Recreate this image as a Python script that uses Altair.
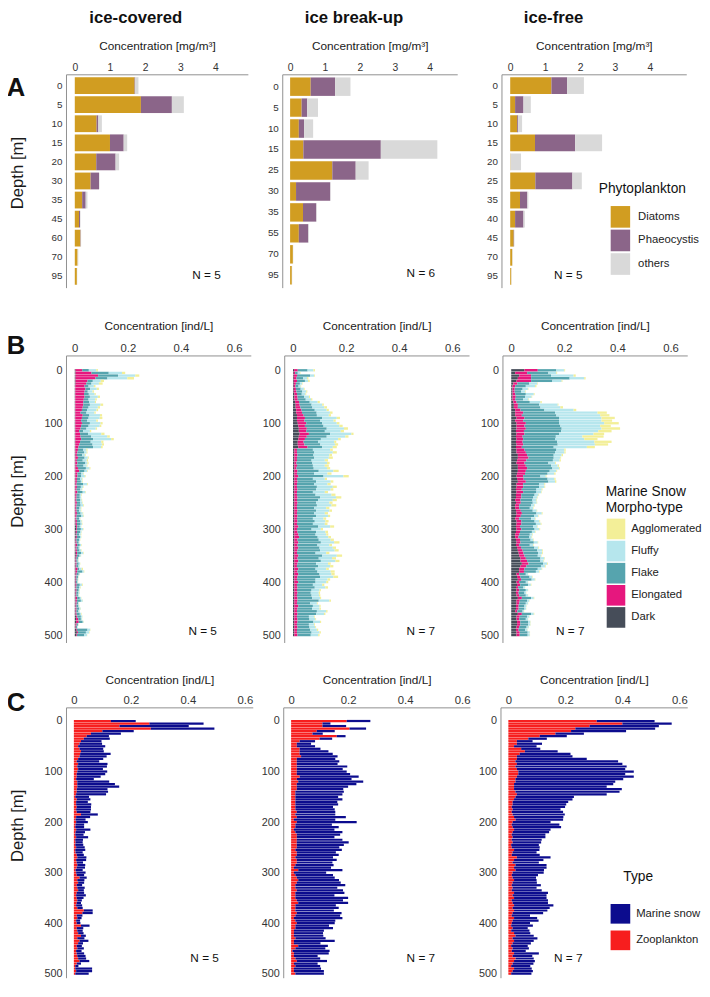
import altair as alt
import pandas as pd

FONT = "Liberation Sans"

# ---------------- Row A : phytoplankton (mg/m3) ----------------
A_CATS = ["Diatoms", "Phaeocystis", "others"]
A_COLORS = ["#D19D21", "#8B6589", "#D9D9D9"]

A1_DEPTH = ["0", "5", "10", "15", "20", "30", "35", "45", "60", "70", "95"]
A1_DIATOMS = [1.70, 1.88, 0.62, 1.00, 0.61, 0.45, 0.21, 0.12, 0.16, 0.08, 0.06]
A1_PHAEO = [0.02, 0.88, 0.05, 0.39, 0.55, 0.24, 0.10, 0.03, 0.01, 0.00, 0.00]
A1_OTHERS = [0.09, 0.34, 0.10, 0.10, 0.10, 0.01, 0.05, 0.01, 0.01, 0.02, 0.01]

A2_DEPTH = ["0", "5", "10", "15", "25", "30", "35", "55", "70", "95"]
A2_DIATOMS = [0.59, 0.33, 0.25, 0.38, 1.21, 0.17, 0.37, 0.25, 0.08, 0.05]
A2_PHAEO = [0.70, 0.16, 0.15, 2.22, 0.67, 0.98, 0.38, 0.27, 0.00, 0.00]
A2_OTHERS = [0.44, 0.31, 0.26, 1.62, 0.37, 0.01, 0.01, 0.02, 0.01, 0.01]

A3_DEPTH = ["0", "5", "10", "15", "20", "25", "35", "40", "45", "70", "95"]
A3_DIATOMS = [1.18, 0.14, 0.20, 0.71, 0.01, 0.72, 0.28, 0.14, 0.10, 0.06, 0.03]
A3_PHAEO = [0.45, 0.24, 0.03, 1.15, 0.00, 1.06, 0.21, 0.24, 0.01, 0.00, 0.00]
A3_OTHERS = [0.48, 0.21, 0.11, 0.77, 0.30, 0.27, 0.03, 0.04, 0.01, 0.01, 0.01]

COLUMN_TITLES = ["ice-covered", "ice break-up", "ice-free"]

# ---------------- Row B : marine snow morpho-types (ind/L x 1000) ----------------
DEPTHS = list(range(0, 505, 5))
B_STACK = ["Dark", "Elongated", "Flake", "Fluffy", "Agglomerated"]
B_LEGEND = ["Agglomerated", "Fluffy", "Flake", "Elongated", "Dark"]
B_COLORS = ["#F3EF98", "#B6E6ED", "#56A4AE", "#E6177E", "#464D59"]

# rows: (dark, elongated, flake, fluffy, agglomerated) per 5 m bin, 0..500 m
B1_ROWS = [
    (3,25,25,28,6),(3,60,65,50,12),(3,85,75,65,15),(3,75,45,75,25),(3,45,20,30,12),(3,40,20,28,14),(2,35,15,20,6),(2,38,18,25,8),(2,35,12,18,5),(2,33,18,22,4),
    (2,35,20,30,8),(2,32,18,25,6),(2,30,22,22,4),(2,30,25,40,10),(2,28,22,35,8),(2,25,20,35,6),(2,20,22,30,5),(2,28,25,40,8),(2,25,25,42,10),(2,22,22,35,6),
    (2,25,30,40,8),(2,22,28,42,6),(2,20,22,35,5),(2,15,15,25,5),(2,18,30,50,12),(2,20,40,60,10),(2,22,45,68,10),(2,18,40,40,8),(2,15,50,35,8),(2,12,55,30,6),
    (2,10,20,12,4),(2,8,25,10,3),(2,6,20,10,3),(2,10,25,12,4),(2,6,22,15,5),(2,8,30,8,4),(2,6,25,12,3),(2,10,30,14,3),(2,15,20,10,2),(2,8,15,8,2),
    (2,8,14,14,3),(2,6,12,8,2),(2,6,15,6,2),(2,5,25,15,3),(2,6,15,8,2),(2,5,14,6,2),(2,8,20,10,2),(2,5,12,6,2),(2,5,12,5,1),(2,4,14,6,2),
    (2,6,12,8,2),(2,5,15,10,3),(2,4,12,5,2),(2,5,10,6,2),(2,6,14,8,2),(2,5,18,8,2),(2,4,10,5,1),(3,5,12,6,2),(3,5,14,5,2),(5,4,10,5,1),
    (5,3,15,8,2),(4,4,12,5,1),(4,3,10,6,2),(4,4,12,4,1),(3,3,10,4,1),(3,4,8,3,1),(3,6,10,5,2),(3,4,8,4,1),(3,5,10,6,2),(4,5,15,8,2),
    (4,4,10,5,1),(3,3,6,3,1),(3,3,5,3,1),(3,4,8,5,1),(3,3,8,4,1),(3,8,5,10,5),(3,6,20,5,2),(3,4,8,4,1),(3,3,6,2,1),(3,3,5,2,1),
    (3,2,5,2,1),(3,4,12,8,3),(3,3,10,5,2),(3,4,8,3,1),(3,3,8,4,1),(3,3,6,4,1),(3,6,10,5,1),(3,5,15,7,1),(3,4,6,3,1),(3,3,8,3,1),
    (3,4,10,5,1),(3,3,8,4,1),(3,4,12,5,2),(5,4,14,5,1),(5,8,10,4,1),(5,10,15,3,1),(3,4,5,2,1),(3,2,4,2,0),(5,3,40,10,1),(8,4,30,12,2),
    (5,3,28,10,1),
]
B2_ROWS = [
    (4,14,37,22,6),(3,5,10,8,2),(3,12,50,15,3),(3,10,25,15,5),(3,12,30,12,6),(3,8,15,8,2),(3,6,12,8,2),(3,8,18,12,3),(3,10,22,15,4),(5,10,18,14,3),
    (5,12,25,18,4),(6,12,30,20,5),(8,15,40,30,8),(10,15,45,40,6),(10,18,45,45,10),(12,20,50,45,8),(12,22,55,50,10),(15,25,50,45,8),(15,30,65,55,12),(15,28,60,50,8),
    (18,32,60,55,10),(20,25,70,60,12),(22,30,75,65,15),(22,28,70,60,12),(25,35,80,80,8),(22,30,75,70,12),(20,25,60,65,10),(18,22,55,60,8),(18,25,60,55,12),(20,35,55,40,15),
    (5,10,60,65,10),(5,10,65,70,15),(5,12,60,60,10),(5,10,65,55,15),(5,10,55,50,12),(5,8,60,55,10),(5,10,60,45,15),(5,8,65,50,12),(5,12,80,55,20),(5,10,65,50,15),
    (5,15,95,75,20),(5,10,60,45,8),(5,12,70,55,10),(5,10,65,50,12),(5,10,75,60,15),(5,12,70,55,10),(5,10,60,45,12),(5,10,70,60,15),(5,12,85,60,20),(5,10,80,55,15),
    (5,12,70,50,12),(5,10,75,55,18),(5,10,65,45,12),(5,12,70,50,10),(5,10,65,40,12),(5,12,70,45,8),(5,10,60,40,10),(5,12,65,40,12),(5,10,60,45,10),(5,15,75,45,15),
    (5,10,55,35,8),(5,12,70,35,10),(5,15,65,40,8),(5,18,70,40,10),(5,12,80,45,12),(5,15,85,50,20),(5,12,75,45,10),(5,15,80,50,12),(5,12,85,55,15),(5,10,70,40,12),
    (5,15,90,55,20),(5,12,80,50,15),(5,15,85,55,15),(5,12,70,45,10),(5,10,80,45,12),(5,15,65,40,10),(5,12,75,50,15),(5,15,80,45,12),(5,12,85,50,18),(5,10,70,45,10),
    (5,15,65,40,8),(5,10,60,35,8),(5,12,65,40,10),(5,10,55,30,5),(5,12,50,30,5),(5,10,55,28,5),(5,12,55,30,4),(5,12,80,40,6),(5,10,50,25,3),(5,15,55,25,4),
    (5,12,55,28,5),(5,10,75,35,5),(5,12,70,30,5),(5,10,45,20,3),(5,12,45,22,3),(5,12,60,25,4),(5,10,45,20,3),(5,12,45,22,3),(5,10,50,25,5),(5,10,55,30,5),
    (5,12,50,28,5),
]
B3_ROWS = [
    (50,50,70,30,3),(15,45,80,30,3),(30,45,75,85,8),(25,50,145,55,5),(20,55,80,35,3),(8,15,45,30,2),(5,10,40,35,5),(5,8,30,20,2),(5,8,25,15,2),(5,10,40,30,3),
    (5,12,35,25,2),(5,10,30,20,2),(8,12,50,40,5),(10,15,80,70,3),(10,15,85,75,10),(15,20,90,110,10),(15,30,120,160,35),(15,25,130,165,35),(20,30,130,160,50),(15,30,135,160,40),
    (20,35,125,170,55),(20,30,135,150,40),(20,35,135,150,70),(18,30,140,140,50),(20,30,130,130,40),(18,25,125,100,80),(20,25,120,110,50),(18,25,130,140,65),(20,25,130,140,50),(18,22,120,125,30),
    (20,30,120,30,5),(20,35,110,35,5),(25,35,100,30,5),(25,40,95,25,3),(22,35,100,25,5),(20,30,90,25,3),(25,30,95,25,5),(25,35,95,25,3),(25,30,90,25,3),(22,30,85,25,5),
    (20,25,65,20,3),(22,25,90,25,5),(25,30,85,25,5),(20,25,60,20,3),(20,25,60,20,3),(18,22,55,20,3),(20,25,50,18,2),(18,20,50,15,2),(18,20,45,15,2),(15,20,45,15,2),
    (18,18,45,15,2),(15,15,45,12,2),(15,15,40,12,2),(18,18,45,15,2),(20,20,55,20,3),(18,18,50,15,2),(15,15,45,15,2),(20,18,50,18,3),(20,18,55,18,3),(18,15,50,15,2),
    (20,18,50,18,3),(18,15,45,12,2),(15,15,40,10,2),(15,12,40,10,2),(18,15,40,10,2),(20,15,50,15,2),(18,12,40,12,2),(22,15,50,15,3),(25,18,55,18,3),(28,18,55,15,3),
    (30,20,50,12,2),(35,20,55,15,2),(35,25,50,12,2),(40,25,55,15,3),(35,22,55,15,3),(30,20,50,15,2),(30,18,45,12,2),(20,10,25,8,1),(22,12,35,10,2),(25,12,40,12,2),
    (20,10,25,8,1),(22,12,30,10,2),(18,8,20,6,1),(20,10,25,8,1),(18,10,22,6,1),(20,10,25,8,1),(25,15,35,10,2),(20,12,28,8,1),(20,10,25,8,1),(18,10,22,7,1),
    (18,10,22,6,1),(15,8,20,5,1),(25,15,35,10,2),(20,12,28,8,1),(20,10,25,8,1),(22,12,30,8,1),(22,12,30,8,1),(20,10,28,8,1),(18,10,25,8,1),(20,12,30,8,1),
    (20,12,30,8,1),
]

# ---------------- Row C : zooplankton (ind/L x 1000); marine snow = row B totals ----------------
C_STACK = ["Zooplankton", "Marine snow"]
C_LEGEND = ["Marine snow", "Zooplankton"]
C_COLORS = ["#0C0C8E", "#F71E1E"]

C1_ZOO = [130,265,160,270,100,60,45,35,25,20, 15,20,25,22,20,15,10,15,12,15,
          12,10,10,8,12,12,12,10,10,8, 5,10,8,8,10,8,10,25,8,6,
          8,6,5,8,6,5,8,5,6,5, 8,5,6,10,12,8,10,12,10,6,
          8,10,20,12,15,10,12,15,10,8, 10,12,10,8,12,35,30,10,12,8,
          10,25,10,12,15,25,12,20,15,10, 12,8,10,12,15,20,10,5,5,8, 5]
C2_ZOO = [195,110,110,205,90,75,160,100,30,20, 20,30,30,30,35,20,20,20,20,20,
          20,20,30,20,25,20,20,20,15,15, 15,15,15,15,15,15,20,15,20,10,
          20,15,15,10,15,20,20,20,20,20, 20,15,20,20,15,20,20,15,10,25,
          10,15,20,25,20,15,15,20,15,15, 15,20,25,15,15,15,20,15,10,15,
          20,15,15,10,10,10,15,10,10,25, 15,5,10,10,15,20,10,15,10,10, 15]
C3_ZOO = [310,400,285,235,220,165,110,70,30,30, 20,45,58,40,30,30,25,30,25,30,
          35,35,30,25,25,20,20,20,25,30, 25,20,15,15,12,15,12,15,20,25,
          15,12,15,20,15,12,15,12,15,10, 12,20,15,12,30,20,15,25,20,25,
          15,12,15,20,15,12,15,12,20,15, 20,12,15,20,15,20,15,12,20,15,
          12,10,15,10,20,25,15,20,15,10, 15,12,20,15,25,20,15,10,20,15, 10]

RECT = "M-0.9,-1H0.9V1H-0.9Z"
SQUARE = "M-1,-1H1V1H-1Z"


def stack(keys, series, cats):
    rows = []
    for i, k in enumerate(keys):
        x = 0.0
        for c, s in zip(cats, series):
            v = s[i]
            rows.append({"depth": k, "cat": c, "x0": x, "x1": x + v})
            x += v
    return pd.DataFrame(rows)


def note(text, x, y, size, weight="normal"):
    return alt.Chart(pd.DataFrame({"t": [text]})).mark_text(
        fontSize=size, fontWeight=weight, align="center", baseline="middle", color="#111111"
    ).encode(text="t:N", x=alt.value(x), y=alt.value(y))


def ytitle_kw(ytitle):
    if ytitle:
        return dict(title="Depth [m]", titleFontSize=17, titleAngle=270, titleX=ytitle[0], titleY=ytitle[1],
                    titleAlign="center", titleBaseline="middle")
    return dict(title=None)


def a_panel(depths, series, width, xdom, n_text, n_xy, title, title_x,
            ytitle=None, legend=None, letter=None):
    df = stack(depths, series, A_CATS)
    bars = alt.Chart(df).mark_bar().encode(
        x=alt.X("x0:Q", scale=alt.Scale(domain=xdom, nice=False, zero=False),
                axis=alt.Axis(orient="top", values=[0, 1, 2, 3, 4], title="Concentration [mg/m³]",
                              labelFontSize=10.5, labelPadding=2, titleFontSize=12, titlePadding=10)),
        x2="x1",
        y=alt.Y("depth:N", sort=depths, scale=alt.Scale(paddingInner=0.12, paddingOuter=0.15),
                axis=alt.Axis(labelFontSize=10, labelPadding=4, **ytitle_kw(ytitle))),
        color=alt.Color("cat:N", scale=alt.Scale(domain=A_CATS, range=A_COLORS), legend=legend),
    )
    layers = [bars, note(n_text, n_xy[0], n_xy[1], 12), note(title, title_x, -57, 17, "bold")]
    if letter:
        layers.append(note(letter[0], letter[1], letter[2], 26, "bold"))
    return alt.layer(*layers).properties(width=width, height=217)


def bc_panel(depths, series, cats, dom, rng, width, height, xdom, ydom, title_pad,
             n_text, n_xy, ytitle=None, legend=None, letter=None):
    df = stack(depths, series, cats)
    df["y0"] = df["depth"] - 2.2
    df["y1"] = df["depth"] + 2.2
    bars = alt.Chart(df).mark_bar().encode(
        x=alt.X("x0:Q", scale=alt.Scale(domain=xdom, nice=False, zero=False),
                axis=alt.Axis(orient="top", values=[0, 0.2, 0.4, 0.6], format="~g", title="Concentration [ind/L]",
                              labelFontSize=11.5, labelPadding=2, titleFontSize=12, titlePadding=title_pad)),
        x2="x1",
        y=alt.Y("y0:Q", scale=alt.Scale(domain=ydom, reverse=True, nice=False, zero=False),
                axis=alt.Axis(values=[0, 100, 200, 300, 400, 500], labelFontSize=11, labelPadding=4,
                              **ytitle_kw(ytitle))),
        y2="y1",
        color=alt.Color("cat:N", scale=alt.Scale(domain=dom, range=rng), legend=legend),
    )
    layers = [bars, note(n_text, n_xy[0], n_xy[1], 12)]
    if letter:
        layers.append(note(letter[0], letter[1], letter[2], 26, "bold"))
    return alt.layer(*layers).properties(width=width, height=height)


def split_rows(rows):
    cols = list(zip(*rows))
    return [[v / 1000 for v in c] for c in cols]


# ---- Row A ----
legA = alt.Legend(title="Phytoplankton", orient="none", legendX=99, legendY=110, titleFontSize=14,
                  titleFontWeight="normal", titleColor="#111111", labelFontSize=11.5, labelColor="#222222",
                  symbolType=RECT, symbolSize=484, symbolStrokeWidth=0, symbolOffset=11, rowPadding=2,
                  labelOffset=7, titlePadding=10, symbolOpacity=1)
a1 = a_panel(A1_DEPTH, [A1_DIATOMS, A1_PHAEO, A1_OTHERS], 185, [-0.25, 4.92], "N = 5", (143, 204),
             COLUMN_TITLES[0], 71, ytitle=(-49, 100), letter=("A", -51, 14))
a2 = a_panel(A2_DEPTH, [A2_DIATOMS, A2_PHAEO, A2_OTHERS], 178, [-0.225, 4.79], "N = 6", (141, 202),
             COLUMN_TITLES[1], 73)
a3 = a_panel(A3_DEPTH, [A3_DIATOMS, A3_PHAEO, A3_OTHERS], 188, [-0.25, 5.04], "N = 5", (68, 204),
             COLUMN_TITLES[2], 53, legend=legA)
rowA = alt.hconcat(
    alt.hconcat(a1, a2, spacing=19).resolve_scale(color="independent"), a3, spacing=29
).resolve_scale(color="independent")

# ---- Row B ----
B_XDOM = [-0.033, 0.663]
B_YDOM = [-28, 514]
legB = alt.Legend(title=["Marine Snow", "Morpho-type"], orient="none", legendX=105, legendY=132, titleFontSize=14,
                  titleLineHeight=16, titleFontWeight="normal", titleColor="#111111", labelFontSize=11.5,
                  labelColor="#222222", symbolType=RECT, symbolSize=441, symbolStrokeWidth=0, rowPadding=1.5,
                  labelOffset=5, titlePadding=4, symbolOpacity=1)
b_series = [split_rows(r) for r in (B1_ROWS, B2_ROWS, B3_ROWS)]
b1 = bc_panel(DEPTHS, b_series[0], B_STACK, B_LEGEND, B_COLORS, 188, 292, B_XDOM, B_YDOM, 10,
              "N = 5", (139, 280), ytitle=(-49, 138), letter=("B", -51, -9))
b2 = bc_panel(DEPTHS, b_series[1], B_STACK, B_LEGEND, B_COLORS, 188, 292, B_XDOM, B_YDOM, 10,
              "N = 7", (139, 280))
b3 = bc_panel(DEPTHS, b_series[2], B_STACK, B_LEGEND, B_COLORS, 188, 292, B_XDOM, B_YDOM, 10,
              "N = 7", (69, 280), legend=legB)
rowB = alt.hconcat(b1, b2, b3, spacing=11).resolve_scale(color="independent")

# ---- Row C ----
C_XDOM = [-0.0276, 0.6276]
C_YDOM = [-27, 508]
legC = alt.Legend(title="Type", orient="none", legendX=125, legendY=166, titleFontSize=14,
                  titleFontWeight="normal", titleColor="#111111", labelFontSize=11.5, labelColor="#222222",
                  symbolType=SQUARE, symbolSize=400, symbolStrokeWidth=0, symbolOffset=-13, rowPadding=7,
                  labelOffset=6, titlePadding=20, symbolOpacity=1)


def c_series(zoo, b_ser):
    snow = [sum(vals) for vals in zip(*b_ser)]
    return [[z / 1000 for z in zoo], snow]


c1 = bc_panel(DEPTHS, c_series(C1_ZOO, b_series[0]), C_STACK, C_LEGEND, C_COLORS, 190, 275, C_XDOM, C_YDOM, 8,
              "N = 5", (141, 255), ytitle=(-49, 120), letter=("C", -51, -4))
c2 = bc_panel(DEPTHS, c_series(C2_ZOO, b_series[1]), C_STACK, C_LEGEND, C_COLORS, 190, 275, C_XDOM, C_YDOM, 8,
              "N = 7", (140, 255))
c3 = bc_panel(DEPTHS, c_series(C3_ZOO, b_series[2]), C_STACK, C_LEGEND, C_COLORS, 190, 275, C_XDOM, C_YDOM, 8,
              "N = 7", (69, 255), legend=legC)
rowC = alt.hconcat(c1, c2, c3, spacing=8).resolve_scale(color="independent")

chart = (
    alt.vconcat(
        alt.vconcat(rowA, rowB, spacing=33).resolve_scale(color="independent"),
        rowC, spacing=32,
    )
    .resolve_scale(color="independent")
    .properties(padding={"left": -2, "top": -7, "right": 0, "bottom": 0})
    .configure(font=FONT)
    .configure_view(strokeWidth=0)
    .configure_axis(domainColor="#8f8f8f", domainWidth=1, ticks=False, tickSize=0, grid=False,
                    labelColor="#333333", titleColor="#1a1a1a", titleFontWeight="normal")
)

chart.save("out.html", embed_options={"renderer": "svg", "actions": False})
